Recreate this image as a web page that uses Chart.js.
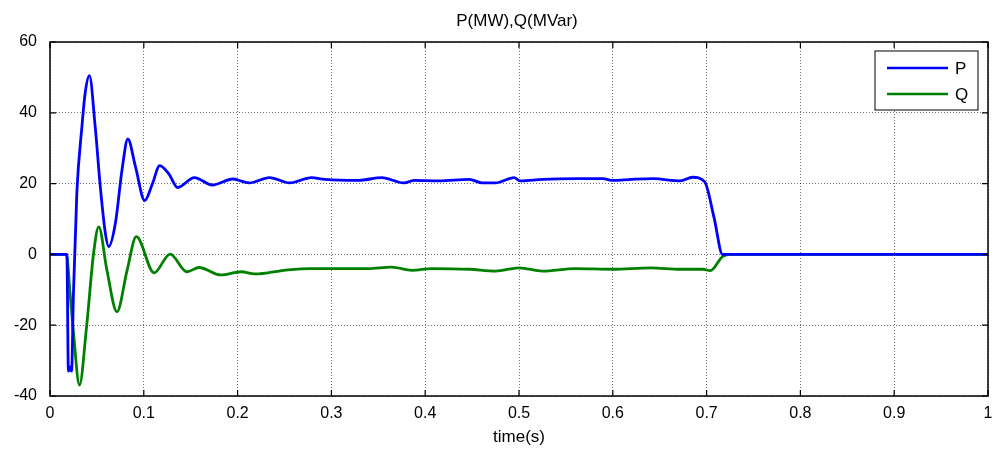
<!DOCTYPE html>
<html>
<head>
<meta charset="utf-8">
<script src="https://cdn.jsdelivr.net/npm/chart.js@4.4.0/dist/chart.umd.min.js"></script>
<style>
  html, body { margin: 0; padding: 0; background: #fff; }
  #wrap { width: 993px; height: 454px; }
</style>
</head>
<body>
<div id="wrap"><canvas id="chart" width="993" height="454"></canvas></div>
<script>
// values
const pTime = [0, 0.018, 0.0196, 0.0214, 0.023, 0.025, 0.0286, 0.034, 0.0375, 0.042, 0.0482, 0.0536, 0.059, 0.0625,
  0.0697, 0.0768, 0.083, 0.0911, 0.101, 0.109, 0.117, 0.1268, 0.136, 0.154, 0.173, 0.195, 0.204,
  0.2126, 0.234, 0.2555, 0.2787, 0.2929, 0.3287, 0.3537, 0.377, 0.389, 0.4145, 0.447,
  0.461, 0.475, 0.4948, 0.501, 0.525, 0.562, 0.5895, 0.6, 0.62, 0.643, 0.672, 0.685, 0.698, 0.708, 0.717, 0.726, 1];
const pValue = [0, 0, -33, -31.8, -33, -11, 17.3, 36, 45.6, 50.5, 36, 19.2, 6, 2.2,
  8.8, 23.9, 32.6, 24.8, 15.2, 19.8, 25.1, 22.7, 18.9, 21.7, 19.6, 21.3, 20.7,
  20.2, 21.7, 20.2, 21.7, 21.2, 20.9, 21.7, 20.2, 20.9, 20.75, 21.2,
  20.2, 20.2, 21.7, 20.75, 21.2, 21.4, 21.4, 20.9, 21.2, 21.4, 20.75, 21.8, 20.5, 10.3, 0, 0, 0];

const qTime = [0, 0.0175, 0.0214, 0.025, 0.0314, 0.039, 0.0465, 0.052, 0.0607, 0.0714, 0.0822, 0.092, 0.111,
  0.128, 0.146, 0.159, 0.182, 0.204, 0.218, 0.232, 0.2537, 0.2787, 0.339, 0.364, 0.3858, 0.407, 0.447,
  0.475, 0.50, 0.525, 0.56, 0.6, 0.64, 0.672, 0.696, 0.704, 0.717, 0.726, 1];
const qValue = [0, 0, -11, -22, -36.9, -20.4, 0.4, 7.8, -4.5, -16.2, -4.5, 5, -5.2,
  0.1, -4.9, -3.7, -5.8, -4.9, -5.5, -5.2, -4.4, -4, -4, -3.6, -4.5, -4, -4.2,
  -4.7, -3.8, -4.7, -4, -4.2, -3.8, -4.2, -4.2, -4.6, -0.6, 0, 0];

const xTicks = [0, 0.1, 0.2, 0.3, 0.4, 0.5, 0.6, 0.7, 0.8, 0.9, 1];
const yTicks = [-40, -20, 0, 20, 40, 60];
const seriesNames = ['P', 'Q'];
const seriesColors = ['#0000ff', '#008000'];

const toPoints = (xs, ys) => xs.map((x, i) => ({ x: x, y: ys[i] }));

const FONT = 'Liberation Sans, Arial, sans-serif';

const framePlugin = {
  id: 'frame',
  afterDraw(chart) {
    const { ctx, chartArea: a, scales } = chart;
    ctx.save();
    ctx.strokeStyle = '#000';
    ctx.lineWidth = 1.5;
    ctx.strokeRect(a.left, a.top, a.right - a.left, a.bottom - a.top);
    ctx.lineWidth = 1.2;
    ctx.beginPath();
    xTicks.forEach(v => {
      const x = scales.x.getPixelForValue(v);
      ctx.moveTo(x, a.bottom); ctx.lineTo(x, a.bottom - 6);
      ctx.moveTo(x, a.top); ctx.lineTo(x, a.top + 6);
    });
    yTicks.forEach(v => {
      const y = scales.y.getPixelForValue(v);
      ctx.moveTo(a.left, y); ctx.lineTo(a.left + 6, y);
      ctx.moveTo(a.right, y); ctx.lineTo(a.right - 6, y);
    });
    ctx.stroke();

    // title
    ctx.fillStyle = '#000';
    ctx.font = '17px ' + FONT;
    ctx.textAlign = 'center';
    ctx.textBaseline = 'middle';
    ctx.fillText('P(MW),Q(MVar)', 517, 21);

    // legend box
    const lx = 875, ly = 51, lw = 103, lh = 59;
    ctx.fillStyle = '#fff';
    ctx.fillRect(lx, ly, lw, lh);
    ctx.strokeStyle = '#000';
    ctx.lineWidth = 1;
    ctx.strokeRect(lx, ly, lw, lh);
    seriesNames.forEach((name, i) => {
      const y = ly + 17 + i * 26;
      ctx.strokeStyle = seriesColors[i];
      ctx.lineWidth = 2.5;
      ctx.beginPath();
      ctx.moveTo(887, y); ctx.lineTo(948, y);
      ctx.stroke();
      ctx.fillStyle = '#000';
      ctx.font = '17px ' + FONT;
      ctx.textAlign = 'left';
      ctx.fillText(name, 955, y + 1);
    });
    ctx.restore();
  }
};

new Chart(document.getElementById('chart'), {
  type: 'line',
  data: {
    datasets: [
      { label: seriesNames[0], data: toPoints(pTime, pValue), borderColor: seriesColors[0], borderWidth: 2.8,
        pointRadius: 0, cubicInterpolationMode: 'monotone', fill: false },
      { label: seriesNames[1], data: toPoints(qTime, qValue), borderColor: seriesColors[1], borderWidth: 2.8,
        pointRadius: 0, cubicInterpolationMode: 'monotone', fill: false }
    ]
  },
  options: {
    responsive: false,
    animation: false,
    layout: { padding: { top: 42, right: 5, left: 0, bottom: 0 } },
    plugins: { legend: { display: false }, tooltip: { enabled: false }, title: { display: false } },
    scales: {
      x: {
        type: 'linear', min: 0, max: 1,
        afterBuildTicks: s => { s.ticks = xTicks.map(v => ({ value: v })); },
        afterFit: s => { s.height = 58; s.paddingLeft = 0; s.paddingRight = 0; },
        grid: { color: 'rgba(0,0,0,0.55)', drawTicks: false, lineWidth: 1 },
        border: { display: false, dash: [1, 2] },
        ticks: { color: '#000', font: { family: FONT, size: 16 }, padding: 8, maxRotation: 0,
          callback: v => String(Math.round(v * 10) / 10) },
        title: { display: true, text: 'time(s)', color: '#000', font: { family: FONT, size: 17 }, padding: { top: 0, bottom: 6 } }
      },
      y: {
        type: 'linear', min: -40, max: 60,
        afterBuildTicks: s => { s.ticks = yTicks.map(v => ({ value: v })); },
        afterFit: s => { s.width = 50; s.paddingTop = 0; s.paddingBottom = 0; },
        grid: { color: 'rgba(0,0,0,0.55)', drawTicks: false, lineWidth: 1 },
        border: { display: false, dash: [1, 2] },
        ticks: { color: '#000', font: { family: FONT, size: 16 }, padding: 13 }
      }
    }
  },
  plugins: [framePlugin]
});
</script>
</body>
</html>
